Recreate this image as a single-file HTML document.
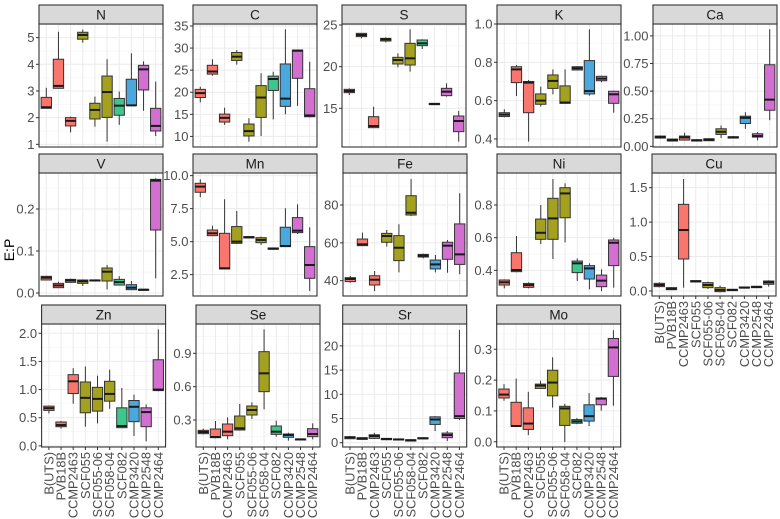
<!DOCTYPE html>
<html><head><meta charset="utf-8"><style>
html,body{margin:0;padding:0;background:#fff;}
svg{display:block;font-family:"Liberation Sans",sans-serif;}
</style></head><body>
<svg id="chart" width="780" height="519" viewBox="0 0 780 519" xmlns="http://www.w3.org/2000/svg">
<text x="0" y="0" transform="translate(14,250) rotate(-90)" text-anchor="middle" font-size="14" fill="#000">E:P</text>
</svg>
<script>
const groups = ["B(UTS)","PVB18B","CCMP2463","SCF055","SCF055-06","SCF058-04","SCF082","CCMP3420","CCMP2548","CCMP2464"];
const groupColors = ["#F8766D","#F8766D","#F8766D","#A3A11E","#A3A11E","#A3A11E","#3DC78C","#4AA8DD","#D36FD1","#D36FD1"];
const elements = ["N","C","S","K","Ca","V","Mn","Fe","Ni","Cu","Zn","Se","Sr","Mo"];
// each box: [lower whisker, q1, median, q3, upper whisker]
const dataN = [[2.35,2.35,2.39,2.76,3.12],[3.1,3.1,3.19,4.19,5.22],[1.45,1.69,1.88,2.0,2.04],[4.81,4.94,5.1,5.2,5.3],[1.66,1.95,2.29,2.54,2.79],[1.1,2.01,2.96,3.56,4.19],[1.73,2.09,2.45,2.72,2.98],[2.46,2.46,2.46,3.44,4.41],[2.26,3.04,3.81,3.96,4.11],[1.31,1.5,1.69,2.35,3.35]];
const dataC = [[17.7,18.8,19.8,20.65,21.25],[23.75,24.1,24.7,26.1,27.45],[12.6,13.25,14.2,15.05,16.5],[26.25,27.2,28.05,29.0,29.55],[8.8,10.1,11.2,12.8,14.1],[10.1,14.3,18.8,21.5,24.3],[13.85,20.4,23.0,23.65,24.65],[15.0,16.8,18.55,26.4,34.25],[16.9,23.15,29.4,29.55,29.55],[14.3,14.45,14.75,20.8,26.9]];
const dataS = [[16.6,16.88,17.08,17.28,17.4],[23.4,23.6,23.8,24.0,24.04],[12.68,12.68,12.88,14.0,15.2],[22.92,23.08,23.28,23.4,23.52],[19.92,20.32,20.8,21.12,21.6],[19.4,20.2,21.0,22.8,24.48],[22.12,22.52,22.8,23.2,23.28],[15.44,15.44,15.52,15.6,15.6],[16.4,16.52,17.0,17.4,18.0],[11.0,12.2,13.48,14.08,14.68]];
const dataK = [[0.513,0.517,0.527,0.537,0.555],[0.624,0.694,0.763,0.777,0.786],[0.386,0.537,0.694,0.70,0.708],[0.569,0.581,0.60,0.635,0.673],[0.633,0.664,0.703,0.734,0.763],[0.586,0.586,0.59,0.677,0.763],[0.757,0.76,0.769,0.777,0.78],[0.626,0.635,0.65,0.809,0.972],[0.696,0.704,0.715,0.727,0.73],[0.537,0.586,0.633,0.649,0.652]];
const dataCa = [[0.069,0.075,0.084,0.093,0.099],[0.045,0.048,0.057,0.066,0.069],[0.051,0.057,0.081,0.093,0.123],[0.045,0.048,0.054,0.06,0.066],[0.048,0.051,0.06,0.069,0.072],[0.075,0.108,0.132,0.159,0.189],[0.072,0.075,0.081,0.087,0.093],[0.159,0.207,0.258,0.273,0.309],[0.054,0.084,0.093,0.114,0.129],[0.237,0.327,0.423,0.739,1.06]];
const dataV = [[0.030,0.031,0.0365,0.0397,0.041],[0.0127,0.0127,0.018,0.023,0.027],[0.0246,0.0254,0.030,0.0325,0.034],[0.0167,0.023,0.028,0.031,0.0325],[0.0278,0.0286,0.030,0.031,0.0317],[0.0087,0.0286,0.0508,0.0595,0.0667],[0.019,0.019,0.026,0.0325,0.040],[0.0079,0.0079,0.0127,0.0198,0.0286],[0.0056,0.0063,0.0079,0.0087,0.0095],[0.035,0.15,0.2675,0.2706,0.273]];
const dataMn = [[8.36,8.74,9.17,9.42,9.72],[5.45,5.45,5.63,5.88,6.21],[2.93,2.93,2.98,5.63,8.21],[4.82,4.87,5.0,6.14,7.32],[5.25,5.28,5.33,5.38,5.4],[4.75,4.92,5.13,5.3,5.38],[4.39,4.42,4.47,4.52,4.55],[4.62,4.62,4.67,6.09,7.53],[5.58,5.68,5.83,6.82,7.83],[1.26,2.22,3.23,4.62,6.09]];
const dataFe = [[38.9,39.5,40.9,41.6,42.5],[58.5,58.5,59.2,62.0,65.4],[34.5,37.7,40.5,42.6,45.1],[58.0,60.3,63.6,65.0,66.8],[44.4,50.6,57.4,63.8,69.8],[74.2,74.7,75.9,84.9,93.7],[51.8,52.5,53.2,53.9,54.3],[44.4,46.2,48.6,50.9,53.6],[44.2,51.3,58.5,60.3,61.5],[43.4,48.6,53.9,70.0,86.2]];
const dataNi = [[0.29,0.31,0.327,0.341,0.345],[0.388,0.392,0.402,0.508,0.61],[0.29,0.296,0.31,0.32,0.327],[0.561,0.59,0.63,0.714,0.8],[0.469,0.59,0.718,0.841,0.959],[0.571,0.722,0.871,0.906,0.933],[0.335,0.386,0.443,0.457,0.473],[0.284,0.347,0.412,0.429,0.443],[0.273,0.3,0.337,0.371,0.406],[0.294,0.429,0.569,0.586,0.6]];
const dataCu = [[0.053,0.063,0.087,0.111,0.126],[0.019,0.019,0.034,0.048,0.053],[0.048,0.464,0.885,1.258,1.626],[0.126,0.131,0.14,0.15,0.155],[0.029,0.048,0.087,0.121,0.135],[-0.019,-0.01,0.015,0.048,0.077],[0,0.005,0.015,0.024,0.029],[0.039,0.044,0.048,0.058,0.063],[0.044,0.048,0.058,0.068,0.073],[0.063,0.097,0.126,0.145,0.155]];
const dataZn = [[0.576,0.63,0.67,0.706,0.717],[0.306,0.34,0.37,0.424,0.44],[0.75,0.93,1.147,1.265,1.38],[0.341,0.588,0.853,1.135,1.41],[0.4,0.617,0.835,1.04,1.247],[0.659,0.794,0.923,1.147,1.353],[0.323,0.323,0.353,0.676,1.03],[0.176,0.43,0.694,0.806,0.91],[0.082,0.341,0.6,0.676,0.735],[0.97,0.982,1.0,1.53,2.07]];
const dataSe = [[0.171,0.177,0.192,0.207,0.222],[0.135,0.141,0.147,0.219,0.291],[0.126,0.159,0.195,0.264,0.324],[0.204,0.21,0.225,0.336,0.444],[0.309,0.345,0.39,0.426,0.459],[0.396,0.555,0.72,0.915,1.116],[0.15,0.171,0.195,0.246,0.294],[0.114,0.144,0.165,0.174,0.186],[0.117,0.12,0.126,0.129,0.132],[0.126,0.15,0.174,0.222,0.27]];
const dataSr = [[0.75,0.82,1.1,1.23,1.37],[0.62,0.68,0.89,1.03,1.1],[0.75,0.89,1.37,1.64,2.05],[0.55,0.62,0.75,0.89,0.96],[0.48,0.55,0.68,0.75,0.82],[0.27,0.34,0.48,0.62,0.68],[0.75,0.82,0.89,1.03,1.1],[2.4,3.77,4.79,5.34,5.48],[0.34,1.03,1.58,1.99,2.4],[4.66,5.0,5.48,14.4,23.3]];
const dataMo = [[0.133,0.142,0.153,0.171,0.187],[0.051,0.051,0.051,0.128,0.205],[0.0215,0.04,0.059,0.11,0.162],[0.173,0.173,0.182,0.187,0.198],[0.111,0.149,0.192,0.232,0.274],[-0.001,0.053,0.108,0.115,0.123],[0.057,0.06,0.066,0.072,0.077],[0.051,0.067,0.083,0.12,0.158],[0.101,0.12,0.14,0.142,0.145],[0.117,0.212,0.306,0.335,0.362]];
const allData = [dataN,dataC,dataS,dataK,dataCa,dataV,dataMn,dataFe,dataNi,dataCu,dataZn,dataSe,dataSr,dataMo];
const tickN = ["1","2","3","4","5"];
const tickC = ["10","15","20","25","30","35"];
const tickS = ["15","20","25"];
const tickK = ["0.4","0.6","0.8","1.0"];
const tickCa = ["0.00","0.25","0.50","0.75","1.00"];
const tickV = ["0.0","0.1","0.2"];
const tickMn = ["2.5","5.0","7.5","10.0"];
const tickFe = ["40","60","80"];
const tickNi = ["0.4","0.6","0.8"];
const tickCu = ["0.0","0.5","1.0","1.5"];
const tickZn = ["0.0","0.5","1.0","1.5","2.0"];
const tickSe = ["0.3","0.6","0.9"];
const tickSr = ["0","5","10","15","20"];
const tickMo = ["0.0","0.1","0.2","0.3"];
const allTicks = [tickN,tickC,tickS,tickK,tickCa,tickV,tickMn,tickFe,tickNi,tickCu,tickZn,tickSe,tickSr,tickMo];
// value range shown in each panel [bottom, top]
const domains = [[0.9,5.51],[7.6,35.45],[10.36,25.12],[0.358,1.0],[-0.006,1.108],[-0.0071,0.2857],[0.88,10.2],[31.9,96.9],[0.243,0.996],[-0.073,1.713],[-0.02,2.165],[0.057,1.164],[-0.89,24.52],[-0.017,0.382]];

const layout = [[39,24],[193,24],[342,24],[497,24],[653,24],[39,173],[193,173],[343,173],[497,173],[652,173],[41.6,324],[196,324],[342.7,324],[496.7,324]];
const bottomAxis = [false,false,false,false,false,false,false,false,false,true,true,true,true,true];
const PW=124, PH=123, SH=19;
const NS="http://www.w3.org/2000/svg";
const svg=document.getElementById('chart');
function mk(tag,attrs,parent){const e=document.createElementNS(NS,tag);for(const k in attrs)e.setAttribute(k,attrs[k]);(parent||svg).appendChild(e);return e;}

elements.forEach((el,pi)=>{
  const [px,py]=layout[pi];
  const dom=domains[pi];
  const data=allData[pi];
  const ticks=allTicks[pi];
  const g=mk('g',{});
  
  
  const yS=v=>py+PH-(v-dom[0])/(dom[1]-dom[0])*PH;
  const n=groups.length;
  const unit=PW/(n-1+1.2);
  const xS=i=>px+unit*(0.6+i);
  const bg=mk('rect',{x:px,y:py,width:PW,height:PH,fill:'#fff'},g);
  
  
  const tv=ticks.map(Number);
  const step=tv.length>1?tv[1]-tv[0]:1;
  for(let k=-1;k<tv.length;k++){
    const m=tv[0]+step*(k+0.5);
    const yy=yS(m);
    if(yy>py&&yy<py+PH) mk('line',{x1:px,x2:px+PW,y1:yy,y2:yy,stroke:'#f3f3f3','stroke-width':0.6},g);
  }
  tv.forEach(t=>{const yy=yS(t);mk('line',{x1:px,x2:px+PW,y1:yy,y2:yy,stroke:'#ebebeb','stroke-width':1},g);});
  groups.forEach((_,i)=>{const xx=xS(i);mk('line',{x1:xx,x2:xx,y1:py,y2:py+PH,stroke:'#ebebeb','stroke-width':1},g);});
  data.forEach((b,i)=>{
    const cx=xS(i), bw=unit*0.85;
    const bx=mk('g',{},g);
    
    
    mk('line',{x1:cx,x2:cx,y1:yS(b[4]),y2:yS(b[3]),stroke:'#333','stroke-width':1},bx);
    mk('line',{x1:cx,x2:cx,y1:yS(b[1]),y2:yS(b[0]),stroke:'#333','stroke-width':1},bx);
    const top=yS(b[3]),bot=yS(b[1]);
    mk('rect',{x:cx-bw/2,y:top,width:bw,height:Math.max(bot-top,0.5),fill:groupColors[i],stroke:'#333','stroke-width':1},bx);
    mk('line',{x1:cx-bw/2,x2:cx+bw/2,y1:yS(b[2]),y2:yS(b[2]),stroke:'#1a1a1a','stroke-width':2},bx);
  });
  const br=mk('rect',{x:px,y:py,width:PW,height:PH,fill:'none',stroke:'#333','stroke-width':1.1},g);
  
  
  const st=mk('rect',{x:px,y:py-SH,width:PW,height:SH,fill:'#d9d9d9',stroke:'#333','stroke-width':1.1},g);
  
  
  const stt=mk('text',{x:px+PW/2,y:py-SH/2+5,'text-anchor':'middle','font-size':13.5,fill:'#1a1a1a'},g);
  
  
  stt.textContent=el;
  ticks.forEach(t=>{
    const yy=yS(Number(t));
    mk('line',{x1:px-3,x2:px,y1:yy,y2:yy,stroke:'#333','stroke-width':1},g);
    const tx=mk('text',{x:px-4.5,y:yy+4.5,'text-anchor':'end','font-size':13,fill:'#4d4d4d'},g);
    
    
    tx.textContent=t;
  });
  if(bottomAxis[pi]){
    groups.forEach((gr,i)=>{
      const xx=xS(i);
      mk('line',{x1:xx,x2:xx,y1:py+PH,y2:py+PH+3,stroke:'#333','stroke-width':1},g);
      const tx=mk('text',{x:0,y:0,transform:'translate('+(xx+4.5)+','+(py+PH+5)+') rotate(-90)','text-anchor':'end','font-size':12.8,fill:'#4d4d4d'},g);
      
      
      tx.textContent=gr;
    });
  }
});
</script>
</body></html>
